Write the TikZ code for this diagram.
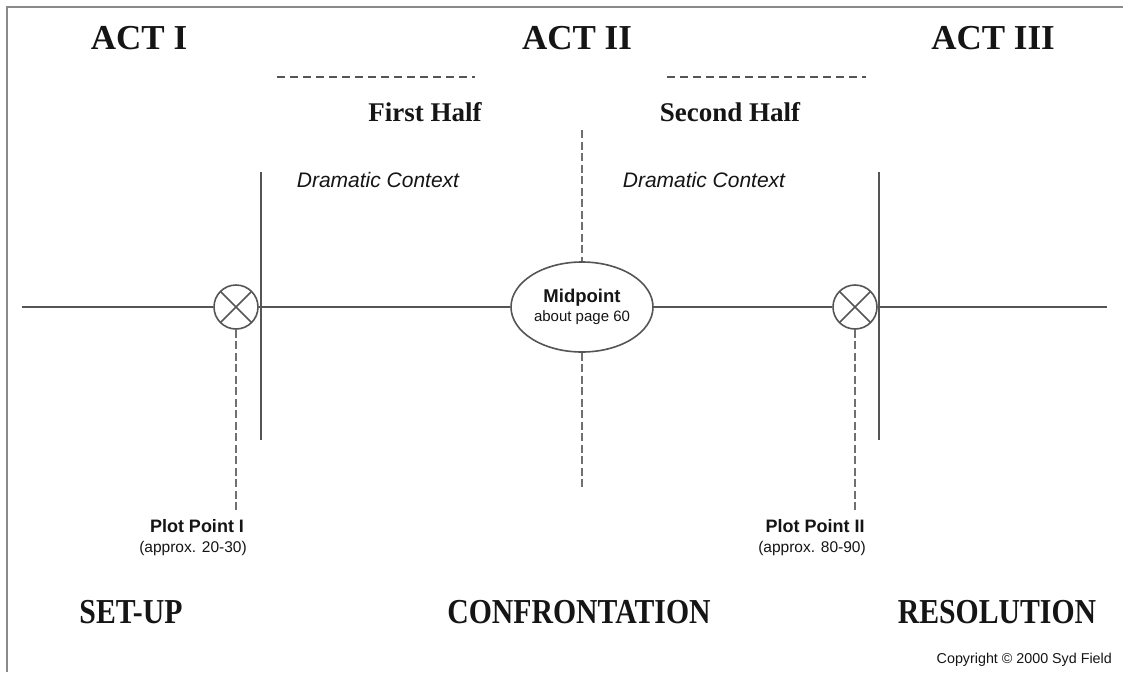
\documentclass[tikz,border=0pt]{standalone}
\usepackage{fontspec}
\usetikzlibrary{shapes.geometric}
\setmainfont{Liberation Serif}
\setsansfont{Liberation Sans}
\newfontfamily\actfont[FakeStretch=0.85]{Liberation Serif}
\definecolor{linegray}{HTML}{555555}
\definecolor{dashgray}{HTML}{707070}
\definecolor{framegray}{HTML}{8A8A8A}
\definecolor{ink}{HTML}{151515}
\begin{document}
\begin{tikzpicture}[x=1pt,y=-1pt,
  ln/.style={draw=linegray,line width=1.6pt},
  dsh/.style={draw=dashgray,line width=1.5pt,dash pattern=on 8pt off 3.5pt},
  acttitle/.style={text=ink,font=\rmfamily\bfseries\fontsize{35}{40}\selectfont,inner sep=0pt},
  bottitle/.style={text=ink,font=\actfont\bfseries\fontsize{35}{40}\selectfont,inner sep=0pt},
  halftitle/.style={text=ink,font=\rmfamily\bfseries\fontsize{27}{30}\selectfont,inner sep=0pt},
  ctx/.style={text=ink,font=\sffamily\itshape\fontsize{21}{24}\selectfont,inner sep=0pt},
  xcirc/.style={circle,draw=linegray,line width=1.6pt,minimum size=44pt,inner sep=0pt,
    path picture={\draw[linegray,line width=1.6pt] (path picture bounding box.north west) -- (path picture bounding box.south east)
      (path picture bounding box.north east) -- (path picture bounding box.south west);}},
  ppbold/.style={text=ink,font=\sffamily\bfseries\fontsize{18}{22}\selectfont,inner sep=0pt},
  ppsmall/.style={text=ink,font=\sffamily\fontsize{15.5}{18}\selectfont,inner sep=0pt}
]
\useasboundingbox (0,0) rectangle (1123,672);
\fill[white] (0,0) rectangle (1123,672);
% frame
\coordinate (fbl) at (7,672);
\coordinate (ftl) at (7,7);
\coordinate (ftr) at (1123,7);
\draw[framegray,line width=2.2pt] (fbl) -- (ftl) -- (ftr);

% act titles
\node[acttitle] (act1) at (139,38) {ACT I};
\node[acttitle] (act2) at (577,38) {ACT II};
\node[acttitle] (act3) at (993,38) {ACT III};

% dashed rules under ACT II
\coordinate (d1a) at (277,77); \coordinate (d1b) at (475,77);
\coordinate (d2a) at (667,77); \coordinate (d2b) at (866,77);
\draw[draw=linegray,line width=1.4pt,dash pattern=on 8pt off 5pt] (d1a) -- (d1b);
\draw[draw=linegray,line width=1.4pt,dash pattern=on 8pt off 5pt] (d2a) -- (d2b);

\node[halftitle] (fh) at (425,112) {First Half};
\node[halftitle] (sh) at (730,112) {Second Half};

\node[ctx] (dc1) at (378,180) {Dramatic Context};
\node[ctx] (dc2) at (704,180) {Dramatic Context};

% main line and nodes
\node[xcirc] (pp1) at (236,307) {};
\node[xcirc] (pp2) at (855,307) {};
\node[ellipse,draw=linegray,line width=1.6pt,minimum width=142pt,minimum height=90pt,inner sep=0pt,align=center] (mid) at (582,307)
  {\textcolor{ink}{\sffamily\bfseries\fontsize{18.5}{20}\selectfont Midpoint}\\[3pt]
   \textcolor{ink}{\sffamily\fontsize{15}{18}\selectfont about page 60}};
\coordinate (hl) at (22,307);
\coordinate (hr) at (1107,307);
\draw[ln] (hl) -- (pp1.west);
\draw[ln] (pp1.east) -- (mid.west);
\draw[ln] (mid.east) -- (pp2.west);
\draw[ln] (pp2.east) -- (hr);

% act boundaries
\coordinate (v1t) at (261,172); \coordinate (v1b) at (261,440);
\coordinate (v2t) at (879,172); \coordinate (v2b) at (879,440);
\draw[ln] (v1t) -- (v1b);
\draw[ln] (v2t) -- (v2b);

% midpoint dashed line
\coordinate (mt) at (582,130); \coordinate (mb) at (582,488);
\draw[dsh] (mt) -- (mid.north);
\draw[dsh] (mid.south) -- (mb);

% plot point drop lines
\coordinate (p1b) at (236,510);
\coordinate (p2b) at (855,510);
\draw[dsh] (pp1.south) -- (p1b);
\draw[dsh] (pp2.south) -- (p2b);

\node[ppbold] (pp1t) at (197,526) {Plot Point I};
\node[ppsmall] (pp1s) at (193,548) {(approx. 20-30)};
\node[ppbold] (pp2t) at (815,526) {Plot Point II};
\node[ppsmall] (pp2s) at (812,548) {(approx. 80-90)};

% bottom titles
\node[bottitle] (setup) at (131,612) {SET-UP};
\node[bottitle] (conf) at (579,612) {CONFRONTATION};
\node[bottitle] (res) at (997,612) {RESOLUTION};

\node[text=ink,font=\sffamily\fontsize{14.3}{16}\selectfont,inner sep=0pt,anchor=east] (copy) at (1112,660) {Copyright \textcopyright\ 2000 Syd Field};
\end{tikzpicture}
\end{document}
